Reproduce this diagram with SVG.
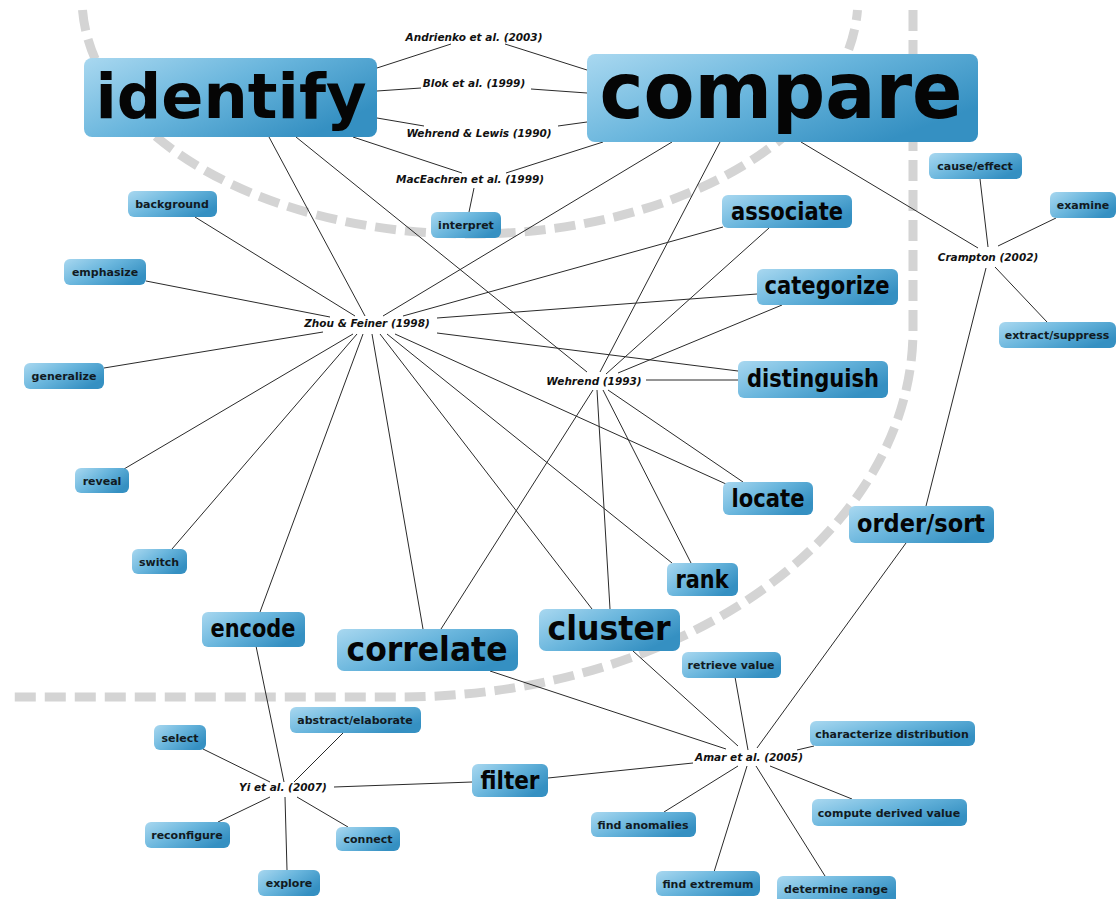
<svg xmlns="http://www.w3.org/2000/svg" width="1116" height="899" viewBox="0 0 1116 899">
<style>
.bg{fill:#ffffff}
.dash{fill:none;stroke:#d4d4d4;stroke-width:9;stroke-dasharray:21 9}
.conn line{stroke:#2a2a2a;stroke-width:1}
.node rect{fill:url(#g)}
.t{font-family:"DejaVu Sans",Verdana,sans-serif;font-weight:bold;fill:#050505;text-anchor:middle}
.s{font-size:11px;fill:#111a22}
.m{font-size:24px}
.c{font-family:"DejaVu Sans",Verdana,sans-serif;font-weight:bold;font-style:italic;font-size:10.5px;fill:#111;text-anchor:middle}
</style>
<defs>
<linearGradient id="g" x1="0" y1="0" x2="1" y2="0.6">
<stop offset="0" stop-color="#a9d8f0"/>
<stop offset="0.5" stop-color="#6ab6dd"/>
<stop offset="1" stop-color="#3590c2"/>
</linearGradient>
</defs>
<rect class="bg" x="0" y="0" width="1116" height="899"/>
<g id="dividers">
<path class="dash" d="M 82.5 10 A 388 236 0 0 0 857.5 10"/>
<path class="dash" d="M 913 10 L 913 330 A 513 367 0 0 1 400 697 L 9 697"/>
</g>
<g id="connectors" class="conn">
<line x1="377" y1="68" x2="451" y2="44"/>
<line x1="505" y1="44" x2="587" y2="70"/>
<line x1="377" y1="91" x2="421" y2="88"/>
<line x1="531" y1="89" x2="587" y2="93"/>
<line x1="377" y1="118" x2="424" y2="126"/>
<line x1="558" y1="126" x2="587" y2="122"/>
<line x1="353" y1="137" x2="462" y2="173"/>
<line x1="506" y1="173" x2="603" y2="142"/>
<line x1="474" y1="188" x2="469" y2="212"/>
<line x1="269" y1="137" x2="365" y2="316"/>
<line x1="296" y1="137" x2="587" y2="372"/>
<line x1="672" y1="142" x2="383" y2="316"/>
<line x1="720" y1="142" x2="600" y2="372"/>
<line x1="801" y1="142" x2="978" y2="248"/>
<line x1="980" y1="179" x2="988" y2="247"/>
<line x1="998" y1="246" x2="1056" y2="218"/>
<line x1="995" y1="267" x2="1047" y2="322"/>
<line x1="986" y1="268" x2="926" y2="506"/>
<line x1="906" y1="543" x2="757" y2="748"/>
<line x1="195" y1="217" x2="355" y2="316"/>
<line x1="146" y1="281" x2="330" y2="317"/>
<line x1="104" y1="368" x2="323" y2="332"/>
<line x1="124" y1="469" x2="353" y2="334"/>
<line x1="172" y1="549" x2="357" y2="334"/>
<line x1="403" y1="316" x2="723" y2="227"/>
<line x1="437" y1="318" x2="757" y2="294"/>
<line x1="437" y1="333" x2="738" y2="371"/>
<line x1="395" y1="334" x2="726" y2="484"/>
<line x1="387" y1="334" x2="672" y2="563"/>
<line x1="380" y1="334" x2="592" y2="609"/>
<line x1="372" y1="334" x2="423" y2="629"/>
<line x1="363" y1="334" x2="260" y2="612"/>
<line x1="606" y1="374" x2="769" y2="228"/>
<line x1="618" y1="373" x2="782" y2="305"/>
<line x1="646" y1="380" x2="738" y2="380"/>
<line x1="608" y1="390" x2="743" y2="482"/>
<line x1="603" y1="390" x2="691" y2="563"/>
<line x1="597" y1="390" x2="610" y2="609"/>
<line x1="593" y1="390" x2="441" y2="629"/>
<line x1="490" y1="671" x2="726" y2="749"/>
<line x1="633" y1="651" x2="738" y2="746"/>
<line x1="735" y1="677" x2="748" y2="750"/>
<line x1="814" y1="746" x2="797" y2="750"/>
<line x1="852" y1="799" x2="770" y2="766"/>
<line x1="825" y1="876" x2="756" y2="766"/>
<line x1="714" y1="872" x2="747" y2="766"/>
<line x1="664" y1="812" x2="738" y2="766"/>
<line x1="548" y1="778" x2="693" y2="763"/>
<line x1="256" y1="646" x2="284" y2="782"/>
<line x1="343" y1="733" x2="294" y2="782"/>
<line x1="203" y1="749" x2="270" y2="782"/>
<line x1="218" y1="822" x2="270" y2="797"/>
<line x1="287" y1="870" x2="285" y2="797"/>
<line x1="348" y1="827" x2="297" y2="797"/>
<line x1="334" y1="787" x2="472" y2="782"/>
</g>
<g id="cite-andrienko"><text class="c" x="474" y="41">Andrienko et al. (2003)</text></g>
<g id="cite-blok"><text class="c" x="474" y="87">Blok et al. (1999)</text></g>
<g id="cite-wehrend-lewis"><text class="c" x="479" y="137">Wehrend &amp; Lewis (1990)</text></g>
<g id="cite-maceachren"><text class="c" x="470" y="183">MacEachren et al. (1999)</text></g>
<g id="cite-zhou"><text class="c" x="367" y="327">Zhou &amp; Feiner (1998)</text></g>
<g id="cite-wehrend"><text class="c" x="594" y="385">Wehrend (1993)</text></g>
<g id="cite-crampton"><text class="c" x="988" y="261">Crampton (2002)</text></g>
<g id="cite-amar"><text class="c" x="749" y="761">Amar et al. (2005)</text></g>
<g id="cite-yi"><text class="c" x="283" y="791">Yi et al. (2007)</text></g>
<g id="identify" class="node"><rect x="84" y="58" width="293" height="79" rx="8"/><text class="t" x="231" y="118" font-size="63" textLength="271" lengthAdjust="spacingAndGlyphs">identify</text></g>
<g id="compare" class="node"><rect x="587" y="54" width="391" height="88" rx="8"/><text class="t" x="781" y="118" font-size="78" textLength="363" lengthAdjust="spacingAndGlyphs">compare</text></g>
<g id="associate" class="node"><rect x="722" y="195" width="130" height="33" rx="6"/><text class="t m" x="787" y="220" textLength="112" lengthAdjust="spacingAndGlyphs">associate</text></g>
<g id="categorize" class="node"><rect x="757" y="269" width="141" height="36" rx="6"/><text class="t m" x="827" y="294" textLength="125" lengthAdjust="spacingAndGlyphs">categorize</text></g>
<g id="distinguish" class="node"><rect x="738" y="361" width="150" height="37" rx="6"/><text class="t m" x="813" y="387" textLength="132" lengthAdjust="spacingAndGlyphs">distinguish</text></g>
<g id="locate" class="node"><rect x="723" y="482" width="90" height="33" rx="6"/><text class="t m" x="768" y="507" textLength="73" lengthAdjust="spacingAndGlyphs">locate</text></g>
<g id="order-sort" class="node"><rect x="849" y="506" width="145" height="37" rx="6"/><text class="t m" x="921" y="532" textLength="128" lengthAdjust="spacingAndGlyphs">order/sort</text></g>
<g id="rank" class="node"><rect x="667" y="563" width="71" height="33" rx="6"/><text class="t m" x="702" y="588" textLength="53" lengthAdjust="spacingAndGlyphs">rank</text></g>
<g id="cluster" class="node"><rect x="539" y="609" width="141" height="42" rx="7"/><text class="t" x="609" y="640" font-size="33" textLength="123" lengthAdjust="spacingAndGlyphs">cluster</text></g>
<g id="correlate" class="node"><rect x="337" y="629" width="181" height="42" rx="7"/><text class="t" x="427" y="661" font-size="33" textLength="161" lengthAdjust="spacingAndGlyphs">correlate</text></g>
<g id="encode" class="node"><rect x="202" y="612" width="103" height="35" rx="6"/><text class="t m" x="253" y="637" textLength="85" lengthAdjust="spacingAndGlyphs">encode</text></g>
<g id="filter" class="node"><rect x="472" y="764" width="76" height="33" rx="6"/><text class="t m" x="510" y="789" textLength="59" lengthAdjust="spacingAndGlyphs">filter</text></g>
<g id="background" class="node"><rect x="128" y="191" width="89" height="26" rx="6"/><text class="t s" x="172" y="208">background</text></g>
<g id="interpret" class="node"><rect x="431" y="212" width="70" height="26" rx="6"/><text class="t s" x="466" y="229">interpret</text></g>
<g id="emphasize" class="node"><rect x="64" y="259" width="82" height="26" rx="6"/><text class="t s" x="105" y="276">emphasize</text></g>
<g id="generalize" class="node"><rect x="24" y="363" width="80" height="26" rx="6"/><text class="t s" x="64" y="380">generalize</text></g>
<g id="reveal" class="node"><rect x="75" y="468" width="54" height="25" rx="6"/><text class="t s" x="102" y="485">reveal</text></g>
<g id="switch" class="node"><rect x="132" y="549" width="55" height="25" rx="6"/><text class="t s" x="159" y="566">switch</text></g>
<g id="cause-effect" class="node"><rect x="929" y="153" width="93" height="26" rx="6"/><text class="t s" x="975" y="170">cause/effect</text></g>
<g id="examine" class="node"><rect x="1050" y="192" width="66" height="26" rx="6"/><text class="t s" x="1083" y="209">examine</text></g>
<g id="extract-suppress" class="node"><rect x="999" y="322" width="117" height="26" rx="6"/><text class="t s" x="1057" y="339">extract/suppress</text></g>
<g id="retrieve-value" class="node"><rect x="682" y="652" width="99" height="26" rx="6"/><text class="t s" x="731" y="669">retrieve value</text></g>
<g id="characterize-distribution" class="node"><rect x="810" y="721" width="165" height="25" rx="6"/><text class="t s" x="892" y="738">characterize distribution</text></g>
<g id="compute-derived-value" class="node"><rect x="812" y="799" width="155" height="27" rx="6"/><text class="t s" x="889" y="817">compute derived value</text></g>
<g id="find-anomalies" class="node"><rect x="591" y="812" width="105" height="25" rx="6"/><text class="t s" x="643" y="829">find anomalies</text></g>
<g id="find-extremum" class="node"><rect x="656" y="871" width="104" height="25" rx="6"/><text class="t s" x="708" y="888">find extremum</text></g>
<g id="determine-range" class="node"><rect x="777" y="876" width="119" height="28" rx="6"/><text class="t s" x="836" y="893">determine range</text></g>
<g id="abstract-elaborate" class="node"><rect x="290" y="707" width="131" height="26" rx="6"/><text class="t s" x="355" y="724">abstract/elaborate</text></g>
<g id="select" class="node"><rect x="154" y="725" width="52" height="25" rx="6"/><text class="t s" x="180" y="742">select</text></g>
<g id="reconfigure" class="node"><rect x="145" y="822" width="85" height="26" rx="6"/><text class="t s" x="187" y="839">reconfigure</text></g>
<g id="connect" class="node"><rect x="336" y="827" width="64" height="24" rx="6"/><text class="t s" x="368" y="843">connect</text></g>
<g id="explore" class="node"><rect x="258" y="870" width="62" height="26" rx="6"/><text class="t s" x="289" y="887">explore</text></g>
</svg>
